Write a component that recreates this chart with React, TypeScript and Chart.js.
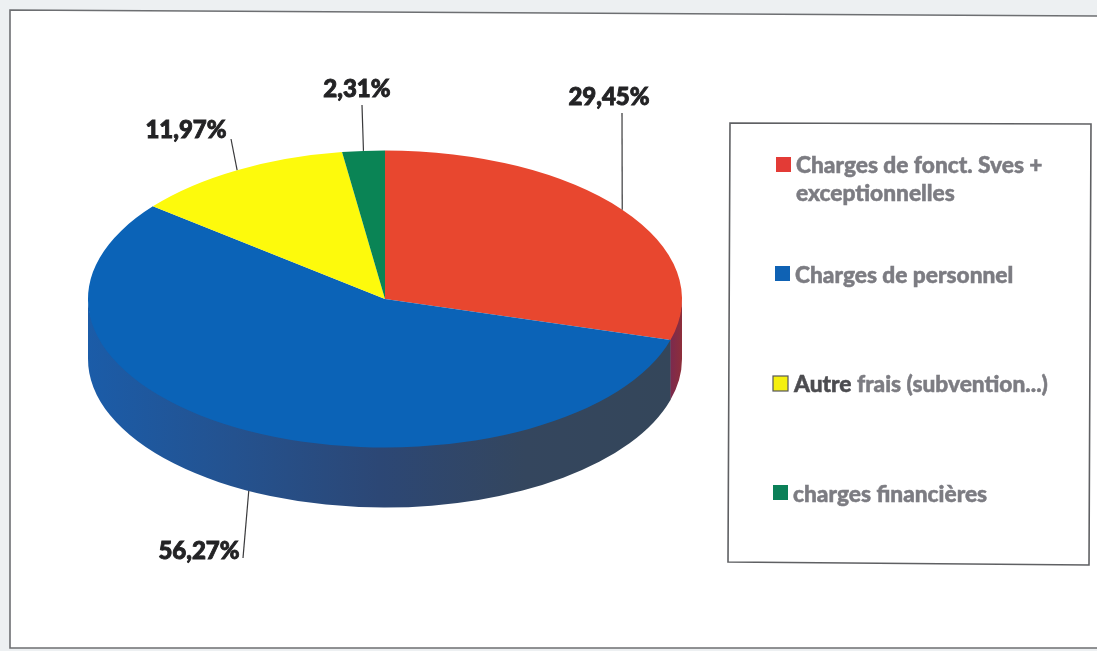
import React, { useEffect, useRef } from "react";
import { Chart, registerables } from "chart.js";

Chart.register(...registerables);

// Expense breakdown, clockwise from twelve o'clock.
const categories = [
  ["Charges de fonct. Sves +", "exceptionnelles"],
  ["Charges de personnel"],
  ["Autre frais (subvention...)"],
  ["charges financières"],
];
const shares = [29.45, 56.27, 11.97, 2.31];
const topColors = ["#e8472f", "#0b63b7", "#fdfa0c", "#0a8455"];
const swatchColors = ["#e33b36", "#0f62b4", "#f5f00f", "#0b8058"];

// Shading of the rim, left to right along each slice.
const rimShades = [
  ["#7b2a4e", "#8e2e3a"],
  ["#1b5ca8", "#24528f", "#2c4775", "#34465e", "#34465a"],
  ["#a8a50a"],
  ["#075a3a"],
];

const SQUASH = 0.5;
const DEPTH = 60;
const W = 1097;
const H = 651;

// Leader end point and text centre for each value label, in canvas pixels.
const labelLayout = [
  { text: [609, 97], end: [622, 113] },
  { text: [199, 551], end: [243, 558] },
  { text: [186, 130], end: [231, 139] },
  { text: [357, 89], end: [362, 105] },
];
// Legend rows: swatch left, swatch top, text left, first baseline.
const legendLayout = [
  [776, 157, 796, 173],
  [775, 266, 795, 283],
  [773, 376, 794, 392],
  [773, 485, 793, 502],
];

const LEGEND_FONT = "900 22.7px Lato";
const VALUE_FONT = "900 24px Lato";
const LEGEND_TEXT = "#7c7c82";

const fmt = (v: number) => v.toFixed(2).replace(".", ",") + "%";

const polygon = (ctx: CanvasRenderingContext2D, pts: number[][]) => {
  ctx.beginPath();
  pts.forEach(([x, y], i) => (i ? ctx.lineTo(x, y) : ctx.moveTo(x, y)));
  ctx.closePath();
};

// Draws the page frame, the extruded rim under the pie, and flattens the pie's disc.
const tiltedPie = {
  id: "tiltedPie",
  beforeDraw(chart: any) {
    const { ctx } = chart;
    ctx.save();
    ctx.fillStyle = "#edf0f2";
    ctx.fillRect(0, 0, W, H);
    polygon(ctx, [[10, 10], [1100, 16], [1100, 648], [10, 648]]);
    ctx.fillStyle = "#ffffff";
    ctx.fill();
    ctx.strokeStyle = "#6d6f72";
    ctx.lineWidth = 1.6;
    ctx.stroke();
    ctx.restore();
  },
  beforeDatasetsDraw(chart: any) {
    const { ctx } = chart;
    const arcs = chart.getDatasetMeta(0).data;
    const cx = arcs[0].x;
    const cy = arcs[0].y;
    const r = arcs[0].outerRadius;
    ctx.save();
    arcs.forEach((arc: any, i: number) => {
      const a0 = Math.max(arc.startAngle, 0);
      const a1 = Math.min(arc.endAngle, Math.PI);
      if (a1 <= a0) return;
      const xs = [a0, a1, ...(a0 < Math.PI / 2 && a1 > Math.PI / 2 ? [Math.PI / 2] : [])].map(
        (a) => cx + r * Math.cos(a)
      );
      const grad = ctx.createLinearGradient(Math.min(...xs), 0, Math.max(...xs), 0);
      const shades = rimShades[i];
      shades.forEach((c, k) => grad.addColorStop(shades.length > 1 ? k / (shades.length - 1) : 0, c));
      // The upper edge tucks under the disc so no seam shows between them.
      ctx.beginPath();
      ctx.ellipse(cx, cy - 3, r, r * SQUASH, 0, a0, a1 + 0.004);
      ctx.ellipse(cx, cy + DEPTH, r, r * SQUASH, 0, a1 + 0.004, a0, true);
      ctx.closePath();
      ctx.fillStyle = grad;
      ctx.fill();
    });
    ctx.restore();
    ctx.save();
    ctx.translate(0, cy);
    ctx.scale(1, SQUASH);
    ctx.translate(0, -cy);
  },
  afterDatasetsDraw(chart: any) {
    chart.ctx.restore();
  },
  afterDraw(chart: any) {
    const { ctx } = chart;
    const arcs = chart.getDatasetMeta(0).data;
    ctx.save();

    // Value labels with leader lines from each slice's mid-angle.
    arcs.forEach((arc: any, i: number) => {
      const mid = (arc.startAngle + arc.endAngle) / 2;
      const sin = Math.sin(mid);
      const ax = arc.x + arc.outerRadius * Math.cos(mid);
      const ay = arc.y + arc.outerRadius * SQUASH * sin + (sin > 0 ? DEPTH : 0);
      const { text, end } = labelLayout[i];
      ctx.beginPath();
      ctx.moveTo(ax, ay);
      ctx.lineTo(end[0], end[1]);
      ctx.strokeStyle = "#3a3a3c";
      ctx.lineWidth = 1.2;
      ctx.stroke();
      ctx.font = VALUE_FONT;
      ctx.fillStyle = "#232325";
      ctx.strokeStyle = "#232325";
      ctx.lineWidth = 0.9;
      ctx.textAlign = "center";
      ctx.textBaseline = "middle";
      ctx.fillText(fmt(shares[i]), text[0], text[1]);
      ctx.strokeText(fmt(shares[i]), text[0], text[1]);
    });

    // Legend box, very slightly skewed like a scanned page.
    polygon(ctx, [[730, 123], [1091, 124], [1089, 565], [728, 562]]);
    ctx.strokeStyle = "#5f6063";
    ctx.lineWidth = 1.6;
    ctx.stroke();

    ctx.textAlign = "left";
    ctx.textBaseline = "alphabetic";
    ctx.font = LEGEND_FONT;
    categories.forEach((lines, i) => {
      const [sx, sy, tx, ty] = legendLayout[i];
      ctx.fillStyle = swatchColors[i];
      ctx.fillRect(sx, sy, 15, 15);
      if (i === 2) {
        ctx.strokeStyle = "#55565a";
        ctx.lineWidth = 1.2;
        ctx.strokeRect(sx, sy, 15, 15);
      }
      lines.forEach((line, k) => {
        // The first word of the third entry prints darker than the rest.
        let fill: any = LEGEND_TEXT;
        if (i === 2) {
          const stop = ctx.measureText(line.split(" ")[0]).width;
          const total = ctx.measureText(line).width;
          const g = ctx.createLinearGradient(tx, 0, tx + total, 0);
          g.addColorStop(0, "#4c4c50");
          g.addColorStop(stop / total, "#4c4c50");
          g.addColorStop(stop / total, LEGEND_TEXT);
          g.addColorStop(1, LEGEND_TEXT);
          fill = g;
        }
        ctx.fillStyle = fill;
        ctx.strokeStyle = fill;
        ctx.lineWidth = 0.5;
        ctx.fillText(line, tx, ty + k * 28);
        ctx.strokeText(line, tx, ty + k * 28);
      });
    });
    ctx.restore();
  },
};

export default function App() {
  const ref = useRef<HTMLCanvasElement>(null);
  useEffect(() => {
    if (!ref.current) return;
    const chart = new Chart(ref.current, {
      type: "pie",
      data: {
        labels: categories.map((c) => c.join(" ")),
        datasets: [
          {
            data: shares,
            backgroundColor: topColors,
            borderWidth: 0,
            clip: false,
          } as any,
        ],
      },
      options: {
        responsive: false,
        animation: false,
        layout: { padding: { left: 88, right: 415, top: 2, bottom: 55 } },
        plugins: { legend: { display: false }, tooltip: { enabled: false }, title: { display: false } },
      },
      plugins: [tiltedPie],
    });
    return () => chart.destroy();
  }, []);
  return (
    <div style={{ position: "absolute", left: 0, top: 0, width: W, height: H }}>
      <canvas ref={ref} width={W} height={H} style={{ display: "block" }} />
    </div>
  );
}
